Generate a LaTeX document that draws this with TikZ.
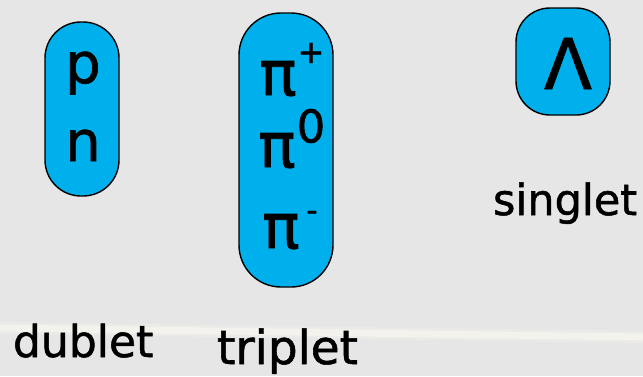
\documentclass[tikz,border=0pt]{standalone}
\usepackage{fontspec}
\setmainfont{DejaVu Sans}[FakeBold=1.2]
\definecolor{bg}{HTML}{E6E6E6}
\definecolor{band}{HTML}{F3F2EC}
\definecolor{boxblue}{HTML}{00B0EC}
\tikzset{
  multbox/.style={draw=black, line width=1.4pt, fill=boxblue},
  txt/.style={inner sep=0pt, outer sep=0pt, text=black},
}
\newcommand{\fs}[1]{\fontsize{#1}{#1}\selectfont}
\begin{document}
\begin{tikzpicture}[x=1pt,y=-1pt]
\useasboundingbox (0,0) rectangle (643,376);
\fill[bg] (0,0) rectangle (643,376);
% light band
\draw[band, line width=12pt, opacity=0.35] (0,328) -- (643,337);
\draw[band, line width=7pt] (0,328) -- (643,337);
% boxes
\path[multbox, rounded corners=36pt] (45,22) rectangle (119,196);
\path[multbox, rounded corners=42pt] (239,13) rectangle (333,287);
\path[multbox, rounded corners=34pt] (516,8) rectangle (610,115);
% doublet
\node[txt, anchor=base, font=\fs{56}] (p) at (83,83) {p};
\node[txt, anchor=base, font=\fs{56}] (n) at (83,161) {n};
% triplet
\node[txt, anchor=base, font=\fs{62}] (pip) at (278,95) {π};
\node[txt, anchor=center, font=\fs{32}] (plus) at (311,53) {+};
\node[txt, anchor=base, font=\fs{62}] (pio) at (277,167) {π};
\node[txt, anchor=south, font=\fs{45}] (zero) at (311,143) {0};
\node[txt, anchor=base, font=\fs{62}] (pim) at (281,248) {π};
\node[txt, anchor=base, font=\fs{32}] (minus) at (312,221) {-};
% singlet
\node[txt, anchor=base, font=\fs{70}] (lam) at (568,89) {Λ};
% labels
\node[txt, anchor=base west, font=\fs{43}] (sing) at (493,215) {singlet};
\node[txt, anchor=base west, font=\fs{44}] (dub) at (13,357) {dublet};
\node[txt, anchor=base west, font=\fs{47}] (trip) at (217,364) {triplet};
\end{tikzpicture}
\end{document}
